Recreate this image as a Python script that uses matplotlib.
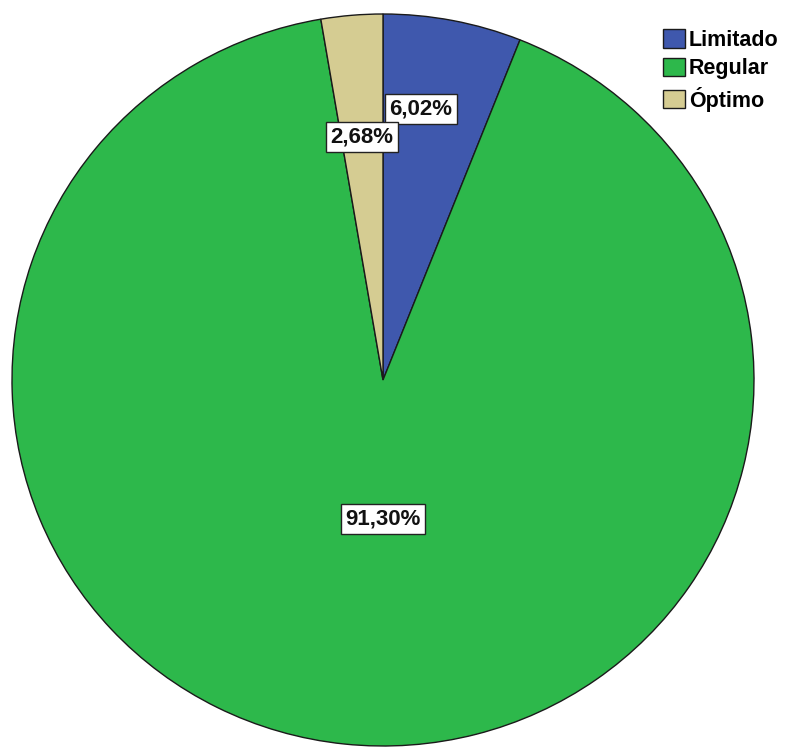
import numpy as np
import matplotlib.pyplot as plt

# %% Data

categorias = ["Limitado", "Regular", "Óptimo"]
porcentajes = [6.02, 91.30, 2.68]
colores = ["#3f58ad", "#2db84b", "#d5cc92"]

# label positions (axes data units, pie radius = 1)
pos_etiquetas = [(0.102, 0.740), (0.0, -0.380), (-0.057, 0.664)]

# %% Plot

plt.rcParams["font.family"] = ["Liberation Sans", "DejaVu Sans"]
plt.rcParams["font.weight"] = "bold"

fig = plt.figure(figsize=(7.89, 7.48), dpi=100)
W, H = 789, 748
cx, cy, rx, ry = 383, 380, 371, 366
ax = fig.add_axes([(cx - rx) / W, (H - cy - ry) / H, 2 * rx / W, 2 * ry / H])

wedges, _ = ax.pie(porcentajes, colors=colores, startangle=90, counterclock=False,
                   radius=1, wedgeprops=dict(edgecolor="#1a1a1a", linewidth=1.0))
ax.set_xlim(-1, 1)
ax.set_ylim(-1, 1)
ax.set_aspect("auto")
ax.axis("off")

for p, (x, y) in zip(porcentajes, pos_etiquetas):
    txt = f"{p:.2f}%".replace(".", ",")
    ax.text(x, y, txt, ha="center", va="center", fontsize=16, fontweight="bold",
            color="#111111",
            bbox=dict(boxstyle="square,pad=0.2", facecolor="white",
                      edgecolor="#222222", linewidth=1.0))

fig.legend(wedges, categorias, loc="upper left",
           bbox_to_anchor=(663 / W, 1 - 29 / H), frameon=False,
           prop=dict(size=15.5, weight="bold"), handlelength=1.0, handleheight=0.95,
           handletextpad=0.2, labelspacing=0.33, borderpad=0, borderaxespad=0)

fig.savefig("out.png", dpi=100, facecolor="white")
